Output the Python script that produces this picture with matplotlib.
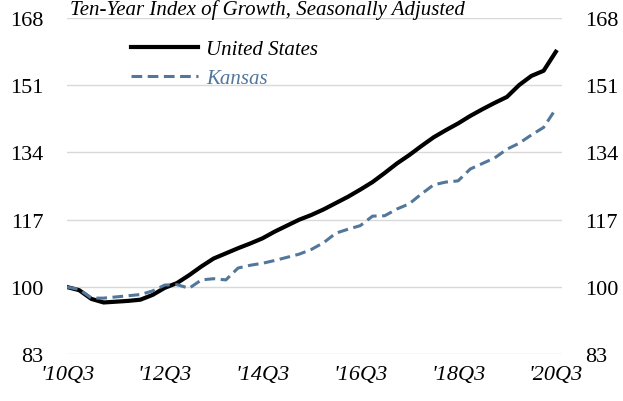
import matplotlib
matplotlib.use("Agg")
import matplotlib.pyplot as plt
import numpy as np

plt.rcParams['font.family'] = ['Liberation Serif', 'DejaVu Serif']

# quarterly index, 2010Q3 = 100
quarters = [f"'{y % 100:02d}Q{q}" for y in range(2010, 2021) for q in range(1, 5)][2:43]
us = [100.0, 99.2, 97.0, 96.1, 96.3, 96.5, 96.8, 98.0, 99.8, 101.0,
      103.0, 105.2, 107.2, 108.5, 109.8, 111.0, 112.3, 114.0, 115.5, 117.0,
      118.2, 119.6, 121.2, 122.8, 124.6, 126.5, 128.8, 131.2, 133.3, 135.6,
      137.8, 139.6, 141.3, 143.2, 144.9, 146.5, 148.0, 151.0, 153.3, 154.6,
      159.4]
kansas = [100.0, 99.4, 97.2, 97.2, 97.5, 97.8, 98.1, 99.0, 100.5, 100.6,
          99.7, 101.8, 102.1, 101.8, 104.8, 105.5, 106.0, 106.7, 107.5, 108.3,
          109.5, 111.2, 113.6, 114.6, 115.5, 117.9, 118.0, 119.7, 121.0, 123.5,
          125.8, 126.5, 126.8, 129.8, 131.2, 132.6, 134.8, 136.3, 138.4, 140.3,
          145.0]
yticks = [83, 100, 117, 134, 151, 168]

kansas_color = '#52779b'

fig = plt.figure(figsize=(6.23, 4.02), dpi=100)
ax = fig.add_axes([0.1075, 0.116, 0.7945, 0.8375])

x = np.arange(len(quarters))
ax.plot(x, us, color='black', lw=3.0, label='United States', solid_joinstyle='round')
ax.plot(x, kansas, color=kansas_color, lw=2.2, ls=(0, (3.5, 1.8)), label='Kansas')

ax.set_ylim(83, 168)
ax.set_xlim(0, 40.5)
ax.set_yticks(yticks)
ax.set_xticks(x[::8])
ax.set_xticklabels([quarters[i] for i in x[::8]], fontstyle='italic', fontsize=16)
ax.tick_params(axis='y', labelsize=16, length=0, pad=17,
               labelleft=True, labelright=True)
ax.tick_params(axis='x', length=0, pad=8)
ax.grid(axis='y', color='#d9d9d9', lw=1.0)
ax.set_axisbelow(True)
for s in ax.spines.values():
    s.set_visible(False)

fig.text(0.43, 0.962, 'Ten-Year Index of Growth, Seasonally Adjusted',
         ha='center', va='baseline', fontsize=15, fontstyle='italic')

leg = fig.legend(loc='upper left', bbox_to_anchor=(0.194, 0.925), frameon=False,
                 prop={'size': 15, 'style': 'italic'}, handlelength=3.2,
                 handletextpad=0.4, labelspacing=0.45, borderpad=0)
for t, c in zip(leg.get_texts(), ['black', kansas_color]):
    t.set_color(c)

fig.savefig('out.png', dpi=100)
